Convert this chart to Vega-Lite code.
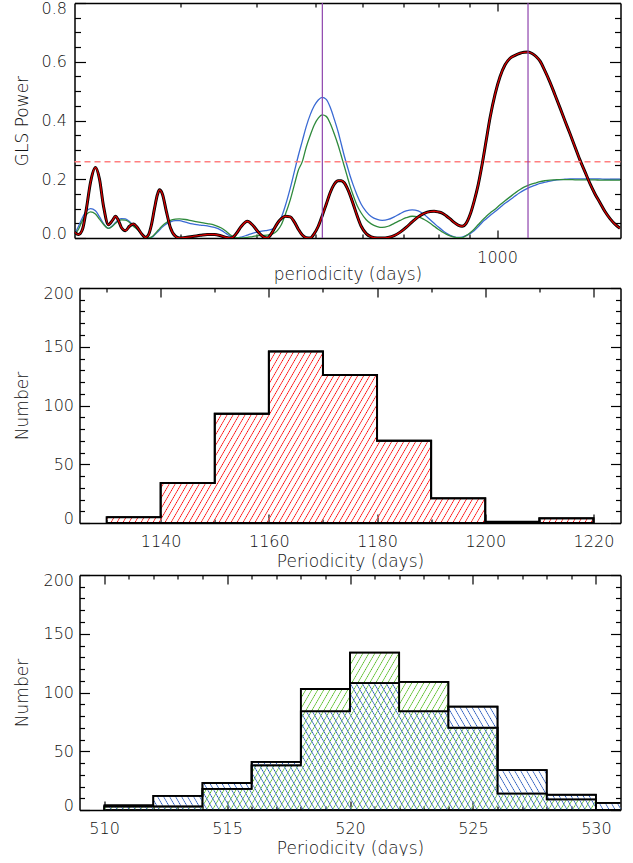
{
"$schema":"https://vega.github.io/schema/vega-lite/v6.json",
"padding":{"left":13.5,"top":0,"right":8,"bottom":0},
"columns":1,"align":"none","spacing":3,
"config":{"view":{"stroke":null},"axis":{"grid":false,"domainColor":"#000","domainWidth":1.5,"tickColor":"#000","tickWidth":1.2,"labelFont":"DejaVu Sans","labelFontSize":16,"labelColor":"#111","labelFontWeight":200,"titleFont":"DejaVu Sans","titleFontSize":17,"titleFontWeight":200,"titleColor":"#111"}},
"datasets":{
"gls":[{"p":200,"r":0.02,"b":0.012,"g":0.01},{"p":203.1,"r":0.012,"b":0.04,"g":0.03},{"p":206.2,"r":0.03,"b":0.07,"g":0.06},{"p":209.3,"r":0.1,"b":0.092,"g":0.08},{"p":212.6,"r":0.19,"b":0.1,"g":0.089},{"p":216.6,"r":0.24,"b":0.093,"g":0.082},{"p":220,"r":0.2,"b":0.072,"g":0.064},{"p":223.3,"r":0.11,"b":0.05,"g":0.047},{"p":227.6,"r":0.045,"b":0.033,"g":0.033},{"p":231.1,"r":0.06,"b":0.042,"g":0.04},{"p":233.8,"r":0.074,"b":0.053,"g":0.05},{"p":236.4,"r":0.06,"b":0.062,"g":0.058},{"p":239.2,"r":0.035,"b":0.066,"g":0.062},{"p":242.8,"r":0.025,"b":0.065,"g":0.061},{"p":246.6,"r":0.04,"b":0.056,"g":0.053},{"p":250.3,"r":0.048,"b":0.043,"g":0.04},{"p":254.2,"r":0.035,"b":0.03,"g":0.029},{"p":258.1,"r":0.015,"b":0.016,"g":0.015},{"p":262,"r":0.002,"b":0.005,"g":0.005},{"p":265,"r":0.01,"b":0,"g":0},{"p":268.1,"r":0.045,"b":0.002,"g":0.003},{"p":271.2,"r":0.1,"b":0.01,"g":0.012},{"p":274.3,"r":0.148,"b":0.02,"g":0.024},{"p":276.4,"r":0.164,"b":0.027,"g":0.031},{"p":279.5,"r":0.15,"b":0.037,"g":0.042},{"p":283.8,"r":0.09,"b":0.048,"g":0.053},{"p":288.2,"r":0.035,"b":0.055,"g":0.06},{"p":293.7,"r":0.006,"b":0.059,"g":0.064},{"p":298.2,"r":0,"b":0.059,"g":0.065},{"p":305.1,"r":0.002,"b":0.054,"g":0.063},{"p":313.3,"r":0.005,"b":0.048,"g":0.058},{"p":323,"r":0.009,"b":0.044,"g":0.053},{"p":331.7,"r":0.012,"b":0.041,"g":0.049},{"p":340.7,"r":0.012,"b":0.036,"g":0.044},{"p":349.9,"r":0.007,"b":0.026,"g":0.034},{"p":356.6,"r":0.002,"b":0.015,"g":0.022},{"p":363.5,"r":0,"b":0.004,"g":0.008},{"p":370.4,"r":0.015,"b":0,"g":0.001},{"p":377.6,"r":0.04,"b":0.003,"g":0},{"p":386.3,"r":0.057,"b":0.01,"g":0.002},{"p":393.7,"r":0.045,"b":0.016,"g":0.005},{"p":402.8,"r":0.02,"b":0.021,"g":0.008},{"p":410.5,"r":0.004,"b":0.024,"g":0.009},{"p":416.8,"r":0,"b":0.026,"g":0.01},{"p":424.8,"r":0.02,"b":0.03,"g":0.013},{"p":433,"r":0.05,"b":0.045,"g":0.025},{"p":439.6,"r":0.066,"b":0.07,"g":0.045},{"p":446.4,"r":0.074,"b":0.11,"g":0.08},{"p":454.9,"r":0.072,"b":0.17,"g":0.13},{"p":461.9,"r":0.055,"b":0.225,"g":0.18},{"p":469,"r":0.03,"b":0.28,"g":0.23},{"p":476.2,"r":0.01,"b":0.33,"g":0.26},{"p":483.5,"r":0.001,"b":0.38,"g":0.31},{"p":490.9,"r":0,"b":0.42,"g":0.35},{"p":498.4,"r":0.015,"b":0.45,"g":0.385},{"p":506.1,"r":0.04,"b":0.47,"g":0.408},{"p":513.8,"r":0.076,"b":0.479,"g":0.419},{"p":521.7,"r":0.115,"b":0.472,"g":0.414},{"p":529.7,"r":0.155,"b":0.445,"g":0.39},{"p":537.8,"r":0.183,"b":0.405,"g":0.355},{"p":546.1,"r":0.195,"b":0.36,"g":0.315},{"p":552.4,"r":0.195,"b":0.32,"g":0.28},{"p":558.7,"r":0.188,"b":0.28,"g":0.245},{"p":565.1,"r":0.17,"b":0.245,"g":0.21},{"p":571.6,"r":0.145,"b":0.21,"g":0.175},{"p":578.2,"r":0.115,"b":0.18,"g":0.145},{"p":587,"r":0.075,"b":0.145,"g":0.11},{"p":596,"r":0.04,"b":0.115,"g":0.085},{"p":607.5,"r":0.015,"b":0.09,"g":0.062},{"p":619.1,"r":0.004,"b":0.073,"g":0.048},{"p":633.4,"r":0,"b":0.063,"g":0.039},{"p":645.6,"r":0,"b":0.06,"g":0.036},{"p":660.5,"r":0.002,"b":0.063,"g":0.04},{"p":675.8,"r":0.008,"b":0.072,"g":0.05},{"p":691.4,"r":0.02,"b":0.083,"g":0.06},{"p":707.3,"r":0.036,"b":0.092,"g":0.069},{"p":723.7,"r":0.055,"b":0.096,"g":0.074},{"p":740.4,"r":0.072,"b":0.092,"g":0.072},{"p":757.5,"r":0.084,"b":0.08,"g":0.063},{"p":775,"r":0.09,"b":0.062,"g":0.05},{"p":786.8,"r":0.091,"b":0.05,"g":0.04},{"p":798.9,"r":0.089,"b":0.038,"g":0.03},{"p":811.2,"r":0.085,"b":0.027,"g":0.021},{"p":823.6,"r":0.076,"b":0.017,"g":0.013},{"p":836.2,"r":0.065,"b":0.009,"g":0.007},{"p":849.1,"r":0.053,"b":0.004,"g":0.003},{"p":862.1,"r":0.044,"b":0.002,"g":0.001},{"p":875.3,"r":0.04,"b":0.003,"g":0.001},{"p":888.7,"r":0.05,"b":0.008,"g":0.008},{"p":902.4,"r":0.08,"b":0.015,"g":0.018},{"p":916.2,"r":0.125,"b":0.025,"g":0.03},{"p":930.3,"r":0.18,"b":0.038,"g":0.045},{"p":944.5,"r":0.25,"b":0.053,"g":0.06},{"p":959,"r":0.33,"b":0.065,"g":0.073},{"p":973.7,"r":0.41,"b":0.077,"g":0.085},{"p":992.4,"r":0.49,"b":0.09,"g":0.098},{"p":1011.5,"r":0.55,"b":0.104,"g":0.113},{"p":1030.9,"r":0.59,"b":0.118,"g":0.127},{"p":1050.7,"r":0.612,"b":0.13,"g":0.14},{"p":1070.9,"r":0.622,"b":0.143,"g":0.153},{"p":1091.5,"r":0.629,"b":0.155,"g":0.165},{"p":1108.2,"r":0.632,"b":0.163,"g":0.173},{"p":1125.2,"r":0.633,"b":0.17,"g":0.179},{"p":1142.5,"r":0.628,"b":0.176,"g":0.184},{"p":1160,"r":0.618,"b":0.181,"g":0.188},{"p":1177.8,"r":0.602,"b":0.186,"g":0.192},{"p":1200.4,"r":0.568,"b":0.19,"g":0.195},{"p":1223.4,"r":0.53,"b":0.194,"g":0.197},{"p":1246.9,"r":0.487,"b":0.197,"g":0.198},{"p":1270.9,"r":0.443,"b":0.199,"g":0.199},{"p":1295.3,"r":0.398,"b":0.2,"g":0.199},{"p":1320.2,"r":0.355,"b":0.201,"g":0.199},{"p":1345.5,"r":0.31,"b":0.201,"g":0.198},{"p":1371.4,"r":0.265,"b":0.201,"g":0.198},{"p":1397.7,"r":0.225,"b":0.201,"g":0.198},{"p":1424.6,"r":0.185,"b":0.201,"g":0.198},{"p":1451.9,"r":0.15,"b":0.201,"g":0.198},{"p":1479.8,"r":0.12,"b":0.201,"g":0.197},{"p":1508.2,"r":0.09,"b":0.2,"g":0.197},{"p":1537.2,"r":0.066,"b":0.2,"g":0.197},{"p":1566.7,"r":0.047,"b":0.2,"g":0.197},{"p":1596.8,"r":0.033,"b":0.2,"g":0.197}],
"h1":[{"x":1130,"n":5},{"x":1140,"n":34},{"x":1150,"n":93},{"x":1160,"n":146},{"x":1170,"n":126},{"x":1180,"n":70},{"x":1190,"n":21},{"x":1200,"n":1},{"x":1210,"n":4},{"x":1220,"n":0}],
"h2":[{"x":510,"b":4,"g":3},{"x":512,"b":12,"g":3},{"x":514,"b":23,"g":18},{"x":516,"b":41,"g":38},{"x":518,"b":84,"g":103},{"x":520,"b":108,"g":134},{"x":522,"b":84,"g":109},{"x":524,"b":88,"g":70},{"x":526,"b":34,"g":14},{"x":528,"b":13,"g":9},{"x":530,"b":6,"g":0},{"x":532,"b":0,"g":0}]
},
"concat":[
{"width":546,"height":235,"data":{"name":"gls"},
"resolve":{"axis":{"x":"independent","y":"independent"}},
"layer":[
{"mark":{"type":"line","color":"#3a6ad4","strokeWidth":1.3,"interpolate":"monotone","clip":true},
"encoding":{"x":{"field":"p","type":"quantitative","scale":{"type":"log","domain":[200,1600],"nice":false},"axis":{"orient":"bottom","values":[300,400,500,600,700,800,900,1000],"labelExpr":"datum.value==1000?'1000':''","tickSize":-8,"tickDash":{"condition":{"test":"datum.value==1000","value":[20,0]},"value":[4,20]},"title":"periodicity (days)","labelPadding":19,"titlePadding":1,"labelFlush":false}},
"y":{"field":"b","type":"quantitative","scale":{"domain":[0,0.8],"nice":false},"axis":{"orient":"left","values":[0,0.05,0.1,0.15,0.2,0.25,0.3,0.35,0.4,0.45,0.5,0.55,0.6,0.65,0.7,0.75,0.8],"labelExpr":"round(datum.value*100)%20==0?format(datum.value,'.1f'):''","tickSize":-11,"tickDash":{"condition":{"test":"round(datum.value*100)%20==0","value":[20,0]},"value":[6,20]},"title":"GLS Power","titleX":-52,"titleBaseline":"middle","labelPadding":19,"labelFlush":true,"labelFlushOffset":3}}}},
{"mark":{"type":"line","color":"#2f8a3c","strokeWidth":1.3,"interpolate":"monotone","clip":true},
"encoding":{"x":{"field":"p","type":"quantitative","axis":{"orient":"top","values":[300,400,500,600,700,800,900,1000],"labels":false,"title":null,"tickSize":-8,"tickDash":{"condition":{"test":"datum.value==1000","value":[20,0]},"value":[4,20]}}},
"y":{"field":"g","type":"quantitative","axis":{"orient":"right","values":[0,0.05,0.1,0.15,0.2,0.25,0.3,0.35,0.4,0.45,0.5,0.55,0.6,0.65,0.7,0.75,0.8],"labels":false,"title":null,"tickSize":-11,"tickDash":{"condition":{"test":"round(datum.value*100)%20==0","value":[20,0]},"value":[6,20]}}}}},
{"mark":{"type":"line","color":"#000","strokeWidth":3,"interpolate":"monotone","clip":true},
"encoding":{"x":{"field":"p","type":"quantitative","axis":null},"y":{"field":"r","type":"quantitative","axis":null}}},
{"mark":{"type":"line","color":"#d40000","strokeWidth":1.3,"interpolate":"monotone","clip":true},
"encoding":{"x":{"field":"p","type":"quantitative","axis":null},"y":{"field":"r","type":"quantitative","axis":null}}},
{"data":{"values":[{"v":0.26}]},"mark":{"type":"rule","color":"#ff7f7f","strokeWidth":1.5,"strokeDash":[6,4]},
"encoding":{"y":{"field":"v","type":"quantitative","axis":null}}},
{"data":{"values":[{"p":514},{"p":1125}]},"mark":{"type":"rule","color":"#8e44ad","strokeWidth":1.2},
"encoding":{"x":{"field":"p","type":"quantitative","axis":null}}}
]},
{"width":546,"height":235,"data":{"name":"h1"},
"resolve":{"axis":{"x":"independent","y":"independent"}},
"layer":[
{"mark":{"type":"area","interpolate":"step-after","clip":true,"stroke":"#000","strokeWidth":1.8,"fill":{"gradient":"linear","x1":0,"y1":0,"x2":1.1833,"y2":0.24072,"stops":[{"offset":0,"color":"#fff0"},{"offset":0.002,"color":"#f00"},{"offset":0.004,"color":"#fff0"},{"offset":0.01,"color":"#fff0"},{"offset":0.012,"color":"#f00"},{"offset":0.014,"color":"#fff0"},{"offset":0.02,"color":"#fff0"},{"offset":0.022,"color":"#f00"},{"offset":0.024,"color":"#fff0"},{"offset":0.03,"color":"#fff0"},{"offset":0.032,"color":"#f00"},{"offset":0.034,"color":"#fff0"},{"offset":0.04,"color":"#fff0"},{"offset":0.042,"color":"#f00"},{"offset":0.044,"color":"#fff0"},{"offset":0.05,"color":"#fff0"},{"offset":0.052,"color":"#f00"},{"offset":0.054,"color":"#fff0"},{"offset":0.06,"color":"#fff0"},{"offset":0.062,"color":"#f00"},{"offset":0.064,"color":"#fff0"},{"offset":0.07,"color":"#fff0"},{"offset":0.072,"color":"#f00"},{"offset":0.074,"color":"#fff0"},{"offset":0.08,"color":"#fff0"},{"offset":0.082,"color":"#f00"},{"offset":0.084,"color":"#fff0"},{"offset":0.09,"color":"#fff0"},{"offset":0.092,"color":"#f00"},{"offset":0.094,"color":"#fff0"},{"offset":0.1,"color":"#fff0"},{"offset":0.102,"color":"#f00"},{"offset":0.104,"color":"#fff0"},{"offset":0.11,"color":"#fff0"},{"offset":0.112,"color":"#f00"},{"offset":0.114,"color":"#fff0"},{"offset":0.12,"color":"#fff0"},{"offset":0.122,"color":"#f00"},{"offset":0.124,"color":"#fff0"},{"offset":0.13,"color":"#fff0"},{"offset":0.132,"color":"#f00"},{"offset":0.134,"color":"#fff0"},{"offset":0.14,"color":"#fff0"},{"offset":0.142,"color":"#f00"},{"offset":0.144,"color":"#fff0"},{"offset":0.15,"color":"#fff0"},{"offset":0.152,"color":"#f00"},{"offset":0.154,"color":"#fff0"},{"offset":0.16,"color":"#fff0"},{"offset":0.162,"color":"#f00"},{"offset":0.164,"color":"#fff0"},{"offset":0.17,"color":"#fff0"},{"offset":0.172,"color":"#f00"},{"offset":0.174,"color":"#fff0"},{"offset":0.18,"color":"#fff0"},{"offset":0.182,"color":"#f00"},{"offset":0.184,"color":"#fff0"},{"offset":0.19,"color":"#fff0"},{"offset":0.192,"color":"#f00"},{"offset":0.194,"color":"#fff0"},{"offset":0.2,"color":"#fff0"},{"offset":0.202,"color":"#f00"},{"offset":0.204,"color":"#fff0"},{"offset":0.21,"color":"#fff0"},{"offset":0.212,"color":"#f00"},{"offset":0.214,"color":"#fff0"},{"offset":0.22,"color":"#fff0"},{"offset":0.222,"color":"#f00"},{"offset":0.224,"color":"#fff0"},{"offset":0.23,"color":"#fff0"},{"offset":0.232,"color":"#f00"},{"offset":0.234,"color":"#fff0"},{"offset":0.24,"color":"#fff0"},{"offset":0.242,"color":"#f00"},{"offset":0.244,"color":"#fff0"},{"offset":0.25,"color":"#fff0"},{"offset":0.252,"color":"#f00"},{"offset":0.254,"color":"#fff0"},{"offset":0.26,"color":"#fff0"},{"offset":0.262,"color":"#f00"},{"offset":0.264,"color":"#fff0"},{"offset":0.27,"color":"#fff0"},{"offset":0.272,"color":"#f00"},{"offset":0.274,"color":"#fff0"},{"offset":0.28,"color":"#fff0"},{"offset":0.282,"color":"#f00"},{"offset":0.284,"color":"#fff0"},{"offset":0.29,"color":"#fff0"},{"offset":0.292,"color":"#f00"},{"offset":0.294,"color":"#fff0"},{"offset":0.3,"color":"#fff0"},{"offset":0.302,"color":"#f00"},{"offset":0.304,"color":"#fff0"},{"offset":0.31,"color":"#fff0"},{"offset":0.312,"color":"#f00"},{"offset":0.314,"color":"#fff0"},{"offset":0.32,"color":"#fff0"},{"offset":0.322,"color":"#f00"},{"offset":0.324,"color":"#fff0"},{"offset":0.33,"color":"#fff0"},{"offset":0.332,"color":"#f00"},{"offset":0.334,"color":"#fff0"},{"offset":0.34,"color":"#fff0"},{"offset":0.342,"color":"#f00"},{"offset":0.344,"color":"#fff0"},{"offset":0.35,"color":"#fff0"},{"offset":0.352,"color":"#f00"},{"offset":0.354,"color":"#fff0"},{"offset":0.36,"color":"#fff0"},{"offset":0.362,"color":"#f00"},{"offset":0.364,"color":"#fff0"},{"offset":0.37,"color":"#fff0"},{"offset":0.372,"color":"#f00"},{"offset":0.374,"color":"#fff0"},{"offset":0.38,"color":"#fff0"},{"offset":0.382,"color":"#f00"},{"offset":0.384,"color":"#fff0"},{"offset":0.39,"color":"#fff0"},{"offset":0.392,"color":"#f00"},{"offset":0.394,"color":"#fff0"},{"offset":0.4,"color":"#fff0"},{"offset":0.402,"color":"#f00"},{"offset":0.404,"color":"#fff0"},{"offset":0.41,"color":"#fff0"},{"offset":0.412,"color":"#f00"},{"offset":0.414,"color":"#fff0"},{"offset":0.42,"color":"#fff0"},{"offset":0.422,"color":"#f00"},{"offset":0.424,"color":"#fff0"},{"offset":0.43,"color":"#fff0"},{"offset":0.432,"color":"#f00"},{"offset":0.434,"color":"#fff0"},{"offset":0.44,"color":"#fff0"},{"offset":0.442,"color":"#f00"},{"offset":0.444,"color":"#fff0"},{"offset":0.45,"color":"#fff0"},{"offset":0.452,"color":"#f00"},{"offset":0.454,"color":"#fff0"},{"offset":0.46,"color":"#fff0"},{"offset":0.462,"color":"#f00"},{"offset":0.464,"color":"#fff0"},{"offset":0.47,"color":"#fff0"},{"offset":0.472,"color":"#f00"},{"offset":0.474,"color":"#fff0"},{"offset":0.48,"color":"#fff0"},{"offset":0.482,"color":"#f00"},{"offset":0.484,"color":"#fff0"},{"offset":0.49,"color":"#fff0"},{"offset":0.492,"color":"#f00"},{"offset":0.494,"color":"#fff0"},{"offset":0.5,"color":"#fff0"},{"offset":0.502,"color":"#f00"},{"offset":0.504,"color":"#fff0"},{"offset":0.51,"color":"#fff0"},{"offset":0.512,"color":"#f00"},{"offset":0.514,"color":"#fff0"},{"offset":0.52,"color":"#fff0"},{"offset":0.522,"color":"#f00"},{"offset":0.524,"color":"#fff0"},{"offset":0.53,"color":"#fff0"},{"offset":0.532,"color":"#f00"},{"offset":0.534,"color":"#fff0"},{"offset":0.54,"color":"#fff0"},{"offset":0.542,"color":"#f00"},{"offset":0.544,"color":"#fff0"},{"offset":0.55,"color":"#fff0"},{"offset":0.552,"color":"#f00"},{"offset":0.554,"color":"#fff0"},{"offset":0.56,"color":"#fff0"},{"offset":0.562,"color":"#f00"},{"offset":0.564,"color":"#fff0"},{"offset":0.57,"color":"#fff0"},{"offset":0.572,"color":"#f00"},{"offset":0.574,"color":"#fff0"},{"offset":0.58,"color":"#fff0"},{"offset":0.582,"color":"#f00"},{"offset":0.584,"color":"#fff0"},{"offset":0.59,"color":"#fff0"},{"offset":0.592,"color":"#f00"},{"offset":0.594,"color":"#fff0"},{"offset":0.6,"color":"#fff0"},{"offset":0.602,"color":"#f00"},{"offset":0.604,"color":"#fff0"},{"offset":0.61,"color":"#fff0"},{"offset":0.612,"color":"#f00"},{"offset":0.614,"color":"#fff0"},{"offset":0.62,"color":"#fff0"},{"offset":0.622,"color":"#f00"},{"offset":0.624,"color":"#fff0"},{"offset":0.63,"color":"#fff0"},{"offset":0.632,"color":"#f00"},{"offset":0.634,"color":"#fff0"},{"offset":0.64,"color":"#fff0"},{"offset":0.642,"color":"#f00"},{"offset":0.644,"color":"#fff0"},{"offset":0.65,"color":"#fff0"},{"offset":0.652,"color":"#f00"},{"offset":0.654,"color":"#fff0"},{"offset":0.66,"color":"#fff0"},{"offset":0.662,"color":"#f00"},{"offset":0.664,"color":"#fff0"},{"offset":0.67,"color":"#fff0"},{"offset":0.672,"color":"#f00"},{"offset":0.674,"color":"#fff0"},{"offset":0.68,"color":"#fff0"},{"offset":0.682,"color":"#f00"},{"offset":0.684,"color":"#fff0"},{"offset":0.69,"color":"#fff0"},{"offset":0.692,"color":"#f00"},{"offset":0.694,"color":"#fff0"},{"offset":0.7,"color":"#fff0"},{"offset":0.702,"color":"#f00"},{"offset":0.704,"color":"#fff0"},{"offset":0.71,"color":"#fff0"},{"offset":0.712,"color":"#f00"},{"offset":0.714,"color":"#fff0"},{"offset":0.72,"color":"#fff0"},{"offset":0.722,"color":"#f00"},{"offset":0.724,"color":"#fff0"},{"offset":0.73,"color":"#fff0"},{"offset":0.732,"color":"#f00"},{"offset":0.734,"color":"#fff0"},{"offset":0.74,"color":"#fff0"},{"offset":0.742,"color":"#f00"},{"offset":0.744,"color":"#fff0"},{"offset":0.75,"color":"#fff0"},{"offset":0.752,"color":"#f00"},{"offset":0.754,"color":"#fff0"},{"offset":0.76,"color":"#fff0"},{"offset":0.762,"color":"#f00"},{"offset":0.764,"color":"#fff0"},{"offset":0.77,"color":"#fff0"},{"offset":0.772,"color":"#f00"},{"offset":0.774,"color":"#fff0"},{"offset":0.78,"color":"#fff0"},{"offset":0.782,"color":"#f00"},{"offset":0.784,"color":"#fff0"},{"offset":0.79,"color":"#fff0"},{"offset":0.792,"color":"#f00"},{"offset":0.794,"color":"#fff0"},{"offset":0.8,"color":"#fff0"},{"offset":0.802,"color":"#f00"},{"offset":0.804,"color":"#fff0"},{"offset":0.81,"color":"#fff0"},{"offset":0.812,"color":"#f00"},{"offset":0.814,"color":"#fff0"},{"offset":0.82,"color":"#fff0"},{"offset":0.822,"color":"#f00"},{"offset":0.824,"color":"#fff0"},{"offset":0.83,"color":"#fff0"},{"offset":0.832,"color":"#f00"},{"offset":0.834,"color":"#fff0"},{"offset":0.84,"color":"#fff0"},{"offset":0.842,"color":"#f00"},{"offset":0.844,"color":"#fff0"},{"offset":0.85,"color":"#fff0"},{"offset":0.852,"color":"#f00"},{"offset":0.854,"color":"#fff0"},{"offset":0.86,"color":"#fff0"},{"offset":0.862,"color":"#f00"},{"offset":0.864,"color":"#fff0"},{"offset":0.87,"color":"#fff0"},{"offset":0.872,"color":"#f00"},{"offset":0.874,"color":"#fff0"},{"offset":0.88,"color":"#fff0"},{"offset":0.882,"color":"#f00"},{"offset":0.884,"color":"#fff0"},{"offset":0.89,"color":"#fff0"},{"offset":0.892,"color":"#f00"},{"offset":0.894,"color":"#fff0"},{"offset":0.9,"color":"#fff0"},{"offset":0.902,"color":"#f00"},{"offset":0.904,"color":"#fff0"},{"offset":0.91,"color":"#fff0"},{"offset":0.912,"color":"#f00"},{"offset":0.914,"color":"#fff0"},{"offset":0.92,"color":"#fff0"},{"offset":0.922,"color":"#f00"},{"offset":0.924,"color":"#fff0"},{"offset":0.93,"color":"#fff0"},{"offset":0.932,"color":"#f00"},{"offset":0.934,"color":"#fff0"},{"offset":0.94,"color":"#fff0"},{"offset":0.942,"color":"#f00"},{"offset":0.944,"color":"#fff0"},{"offset":0.95,"color":"#fff0"},{"offset":0.952,"color":"#f00"},{"offset":0.954,"color":"#fff0"},{"offset":0.96,"color":"#fff0"},{"offset":0.962,"color":"#f00"},{"offset":0.964,"color":"#fff0"},{"offset":0.97,"color":"#fff0"},{"offset":0.972,"color":"#f00"},{"offset":0.974,"color":"#fff0"},{"offset":0.98,"color":"#fff0"},{"offset":0.982,"color":"#f00"},{"offset":0.984,"color":"#fff0"},{"offset":0.99,"color":"#fff0"},{"offset":0.992,"color":"#f00"},{"offset":0.994,"color":"#fff0"}]}},
"encoding":{"x":{"field":"x","type":"quantitative","scale":{"domain":[1125,1225],"range":[5,546],"nice":false,"zero":false},"axis":{"orient":"bottom","values":[1130,1140,1150,1160,1170,1180,1190,1200,1210,1220],"format":"d","labelExpr":"datum.value%20==0?datum.label:''","tickSize":-9,"tickDash":{"condition":{"test":"datum.value%20==0","value":[20,0]},"value":[4,20]},"title":"Periodicity (days)","labelPadding":19,"titlePadding":4,"labelFlush":false}},
"y":{"field":"n","type":"quantitative","scale":{"domain":[0,200],"nice":false},"axis":{"orient":"left","offset":-5,"values":[0,10,20,30,40,50,60,70,80,90,100,110,120,130,140,150,160,170,180,190,200],"labelExpr":"datum.value%50==0?datum.label:''","tickSize":-10,"tickDash":{"condition":{"test":"datum.value%50==0","value":[20,0]},"value":[5,20]},"title":"Number","titleX":-57,"titleBaseline":"middle","labelPadding":16,"labelFlush":true,"labelFlushOffset":3}}}},
{"mark":{"type":"line","interpolate":"step-after","color":"#000","strokeWidth":2,"clip":true},
"encoding":{"x":{"field":"x","type":"quantitative","axis":{"orient":"top","values":[1130,1140,1150,1160,1170,1180,1190,1200,1210,1220],"labels":false,"title":null,"tickSize":-9,"tickDash":{"condition":{"test":"datum.value%20==0","value":[20,0]},"value":[4,20]}}},
"y":{"field":"n","type":"quantitative","axis":{"orient":"right","values":[0,10,20,30,40,50,60,70,80,90,100,110,120,130,140,150,160,170,180,190,200],"labels":false,"title":null,"tickSize":-10,"tickDash":{"condition":{"test":"datum.value%50==0","value":[20,0]},"value":[5,20]}}}}}
]},
{"width":546,"height":235,"data":{"name":"h2"},
"resolve":{"axis":{"x":"independent","y":"independent"}},
"layer":[
{"mark":{"type":"area","interpolate":"step-after","clip":true,"stroke":"#000","strokeWidth":1.6,"fill":{"gradient":"linear","x1":0,"y1":0,"x2":1.0786,"y2":0.18124,"stops":[{"offset":0,"color":"#fff0"},{"offset":0.002,"color":"#5b2"},{"offset":0.004,"color":"#fff0"},{"offset":0.01,"color":"#fff0"},{"offset":0.012,"color":"#5b2"},{"offset":0.014,"color":"#fff0"},{"offset":0.02,"color":"#fff0"},{"offset":0.022,"color":"#5b2"},{"offset":0.024,"color":"#fff0"},{"offset":0.03,"color":"#fff0"},{"offset":0.032,"color":"#5b2"},{"offset":0.034,"color":"#fff0"},{"offset":0.04,"color":"#fff0"},{"offset":0.042,"color":"#5b2"},{"offset":0.044,"color":"#fff0"},{"offset":0.05,"color":"#fff0"},{"offset":0.052,"color":"#5b2"},{"offset":0.054,"color":"#fff0"},{"offset":0.06,"color":"#fff0"},{"offset":0.062,"color":"#5b2"},{"offset":0.064,"color":"#fff0"},{"offset":0.07,"color":"#fff0"},{"offset":0.072,"color":"#5b2"},{"offset":0.074,"color":"#fff0"},{"offset":0.08,"color":"#fff0"},{"offset":0.082,"color":"#5b2"},{"offset":0.084,"color":"#fff0"},{"offset":0.09,"color":"#fff0"},{"offset":0.092,"color":"#5b2"},{"offset":0.094,"color":"#fff0"},{"offset":0.1,"color":"#fff0"},{"offset":0.102,"color":"#5b2"},{"offset":0.104,"color":"#fff0"},{"offset":0.11,"color":"#fff0"},{"offset":0.112,"color":"#5b2"},{"offset":0.114,"color":"#fff0"},{"offset":0.12,"color":"#fff0"},{"offset":0.122,"color":"#5b2"},{"offset":0.124,"color":"#fff0"},{"offset":0.13,"color":"#fff0"},{"offset":0.132,"color":"#5b2"},{"offset":0.134,"color":"#fff0"},{"offset":0.14,"color":"#fff0"},{"offset":0.142,"color":"#5b2"},{"offset":0.144,"color":"#fff0"},{"offset":0.15,"color":"#fff0"},{"offset":0.152,"color":"#5b2"},{"offset":0.154,"color":"#fff0"},{"offset":0.16,"color":"#fff0"},{"offset":0.162,"color":"#5b2"},{"offset":0.164,"color":"#fff0"},{"offset":0.17,"color":"#fff0"},{"offset":0.172,"color":"#5b2"},{"offset":0.174,"color":"#fff0"},{"offset":0.18,"color":"#fff0"},{"offset":0.182,"color":"#5b2"},{"offset":0.184,"color":"#fff0"},{"offset":0.19,"color":"#fff0"},{"offset":0.192,"color":"#5b2"},{"offset":0.194,"color":"#fff0"},{"offset":0.2,"color":"#fff0"},{"offset":0.202,"color":"#5b2"},{"offset":0.204,"color":"#fff0"},{"offset":0.21,"color":"#fff0"},{"offset":0.212,"color":"#5b2"},{"offset":0.214,"color":"#fff0"},{"offset":0.22,"color":"#fff0"},{"offset":0.222,"color":"#5b2"},{"offset":0.224,"color":"#fff0"},{"offset":0.23,"color":"#fff0"},{"offset":0.232,"color":"#5b2"},{"offset":0.234,"color":"#fff0"},{"offset":0.24,"color":"#fff0"},{"offset":0.242,"color":"#5b2"},{"offset":0.244,"color":"#fff0"},{"offset":0.25,"color":"#fff0"},{"offset":0.252,"color":"#5b2"},{"offset":0.254,"color":"#fff0"},{"offset":0.26,"color":"#fff0"},{"offset":0.262,"color":"#5b2"},{"offset":0.264,"color":"#fff0"},{"offset":0.27,"color":"#fff0"},{"offset":0.272,"color":"#5b2"},{"offset":0.274,"color":"#fff0"},{"offset":0.28,"color":"#fff0"},{"offset":0.282,"color":"#5b2"},{"offset":0.284,"color":"#fff0"},{"offset":0.29,"color":"#fff0"},{"offset":0.292,"color":"#5b2"},{"offset":0.294,"color":"#fff0"},{"offset":0.3,"color":"#fff0"},{"offset":0.302,"color":"#5b2"},{"offset":0.304,"color":"#fff0"},{"offset":0.31,"color":"#fff0"},{"offset":0.312,"color":"#5b2"},{"offset":0.314,"color":"#fff0"},{"offset":0.32,"color":"#fff0"},{"offset":0.322,"color":"#5b2"},{"offset":0.324,"color":"#fff0"},{"offset":0.33,"color":"#fff0"},{"offset":0.332,"color":"#5b2"},{"offset":0.334,"color":"#fff0"},{"offset":0.34,"color":"#fff0"},{"offset":0.342,"color":"#5b2"},{"offset":0.344,"color":"#fff0"},{"offset":0.35,"color":"#fff0"},{"offset":0.352,"color":"#5b2"},{"offset":0.354,"color":"#fff0"},{"offset":0.36,"color":"#fff0"},{"offset":0.362,"color":"#5b2"},{"offset":0.364,"color":"#fff0"},{"offset":0.37,"color":"#fff0"},{"offset":0.372,"color":"#5b2"},{"offset":0.374,"color":"#fff0"},{"offset":0.38,"color":"#fff0"},{"offset":0.382,"color":"#5b2"},{"offset":0.384,"color":"#fff0"},{"offset":0.39,"color":"#fff0"},{"offset":0.392,"color":"#5b2"},{"offset":0.394,"color":"#fff0"},{"offset":0.4,"color":"#fff0"},{"offset":0.402,"color":"#5b2"},{"offset":0.404,"color":"#fff0"},{"offset":0.41,"color":"#fff0"},{"offset":0.412,"color":"#5b2"},{"offset":0.414,"color":"#fff0"},{"offset":0.42,"color":"#fff0"},{"offset":0.422,"color":"#5b2"},{"offset":0.424,"color":"#fff0"},{"offset":0.43,"color":"#fff0"},{"offset":0.432,"color":"#5b2"},{"offset":0.434,"color":"#fff0"},{"offset":0.44,"color":"#fff0"},{"offset":0.442,"color":"#5b2"},{"offset":0.444,"color":"#fff0"},{"offset":0.45,"color":"#fff0"},{"offset":0.452,"color":"#5b2"},{"offset":0.454,"color":"#fff0"},{"offset":0.46,"color":"#fff0"},{"offset":0.462,"color":"#5b2"},{"offset":0.464,"color":"#fff0"},{"offset":0.47,"color":"#fff0"},{"offset":0.472,"color":"#5b2"},{"offset":0.474,"color":"#fff0"},{"offset":0.48,"color":"#fff0"},{"offset":0.482,"color":"#5b2"},{"offset":0.484,"color":"#fff0"},{"offset":0.49,"color":"#fff0"},{"offset":0.492,"color":"#5b2"},{"offset":0.494,"color":"#fff0"},{"offset":0.5,"color":"#fff0"},{"offset":0.502,"color":"#5b2"},{"offset":0.504,"color":"#fff0"},{"offset":0.51,"color":"#fff0"},{"offset":0.512,"color":"#5b2"},{"offset":0.514,"color":"#fff0"},{"offset":0.52,"color":"#fff0"},{"offset":0.522,"color":"#5b2"},{"offset":0.524,"color":"#fff0"},{"offset":0.53,"color":"#fff0"},{"offset":0.532,"color":"#5b2"},{"offset":0.534,"color":"#fff0"},{"offset":0.54,"color":"#fff0"},{"offset":0.542,"color":"#5b2"},{"offset":0.544,"color":"#fff0"},{"offset":0.55,"color":"#fff0"},{"offset":0.552,"color":"#5b2"},{"offset":0.554,"color":"#fff0"},{"offset":0.56,"color":"#fff0"},{"offset":0.562,"color":"#5b2"},{"offset":0.564,"color":"#fff0"},{"offset":0.57,"color":"#fff0"},{"offset":0.572,"color":"#5b2"},{"offset":0.574,"color":"#fff0"},{"offset":0.58,"color":"#fff0"},{"offset":0.582,"color":"#5b2"},{"offset":0.584,"color":"#fff0"},{"offset":0.59,"color":"#fff0"},{"offset":0.592,"color":"#5b2"},{"offset":0.594,"color":"#fff0"},{"offset":0.6,"color":"#fff0"},{"offset":0.602,"color":"#5b2"},{"offset":0.604,"color":"#fff0"},{"offset":0.61,"color":"#fff0"},{"offset":0.612,"color":"#5b2"},{"offset":0.614,"color":"#fff0"},{"offset":0.62,"color":"#fff0"},{"offset":0.622,"color":"#5b2"},{"offset":0.624,"color":"#fff0"},{"offset":0.63,"color":"#fff0"},{"offset":0.632,"color":"#5b2"},{"offset":0.634,"color":"#fff0"},{"offset":0.64,"color":"#fff0"},{"offset":0.642,"color":"#5b2"},{"offset":0.644,"color":"#fff0"},{"offset":0.65,"color":"#fff0"},{"offset":0.652,"color":"#5b2"},{"offset":0.654,"color":"#fff0"},{"offset":0.66,"color":"#fff0"},{"offset":0.662,"color":"#5b2"},{"offset":0.664,"color":"#fff0"},{"offset":0.67,"color":"#fff0"},{"offset":0.672,"color":"#5b2"},{"offset":0.674,"color":"#fff0"},{"offset":0.68,"color":"#fff0"},{"offset":0.682,"color":"#5b2"},{"offset":0.684,"color":"#fff0"},{"offset":0.69,"color":"#fff0"},{"offset":0.692,"color":"#5b2"},{"offset":0.694,"color":"#fff0"},{"offset":0.7,"color":"#fff0"},{"offset":0.702,"color":"#5b2"},{"offset":0.704,"color":"#fff0"},{"offset":0.71,"color":"#fff0"},{"offset":0.712,"color":"#5b2"},{"offset":0.714,"color":"#fff0"},{"offset":0.72,"color":"#fff0"},{"offset":0.722,"color":"#5b2"},{"offset":0.724,"color":"#fff0"},{"offset":0.73,"color":"#fff0"},{"offset":0.732,"color":"#5b2"},{"offset":0.734,"color":"#fff0"},{"offset":0.74,"color":"#fff0"},{"offset":0.742,"color":"#5b2"},{"offset":0.744,"color":"#fff0"},{"offset":0.75,"color":"#fff0"},{"offset":0.752,"color":"#5b2"},{"offset":0.754,"color":"#fff0"},{"offset":0.76,"color":"#fff0"},{"offset":0.762,"color":"#5b2"},{"offset":0.764,"color":"#fff0"},{"offset":0.77,"color":"#fff0"},{"offset":0.772,"color":"#5b2"},{"offset":0.774,"color":"#fff0"},{"offset":0.78,"color":"#fff0"},{"offset":0.782,"color":"#5b2"},{"offset":0.784,"color":"#fff0"},{"offset":0.79,"color":"#fff0"},{"offset":0.792,"color":"#5b2"},{"offset":0.794,"color":"#fff0"},{"offset":0.8,"color":"#fff0"},{"offset":0.802,"color":"#5b2"},{"offset":0.804,"color":"#fff0"},{"offset":0.81,"color":"#fff0"},{"offset":0.812,"color":"#5b2"},{"offset":0.814,"color":"#fff0"},{"offset":0.82,"color":"#fff0"},{"offset":0.822,"color":"#5b2"},{"offset":0.824,"color":"#fff0"},{"offset":0.83,"color":"#fff0"},{"offset":0.832,"color":"#5b2"},{"offset":0.834,"color":"#fff0"},{"offset":0.84,"color":"#fff0"},{"offset":0.842,"color":"#5b2"},{"offset":0.844,"color":"#fff0"},{"offset":0.85,"color":"#fff0"},{"offset":0.852,"color":"#5b2"},{"offset":0.854,"color":"#fff0"},{"offset":0.86,"color":"#fff0"},{"offset":0.862,"color":"#5b2"},{"offset":0.864,"color":"#fff0"},{"offset":0.87,"color":"#fff0"},{"offset":0.872,"color":"#5b2"},{"offset":0.874,"color":"#fff0"},{"offset":0.88,"color":"#fff0"},{"offset":0.882,"color":"#5b2"},{"offset":0.884,"color":"#fff0"},{"offset":0.89,"color":"#fff0"},{"offset":0.892,"color":"#5b2"},{"offset":0.894,"color":"#fff0"},{"offset":0.9,"color":"#fff0"},{"offset":0.902,"color":"#5b2"},{"offset":0.904,"color":"#fff0"},{"offset":0.91,"color":"#fff0"},{"offset":0.912,"color":"#5b2"},{"offset":0.914,"color":"#fff0"},{"offset":0.92,"color":"#fff0"},{"offset":0.922,"color":"#5b2"},{"offset":0.924,"color":"#fff0"},{"offset":0.93,"color":"#fff0"},{"offset":0.932,"color":"#5b2"},{"offset":0.934,"color":"#fff0"},{"offset":0.94,"color":"#fff0"},{"offset":0.942,"color":"#5b2"},{"offset":0.944,"color":"#fff0"},{"offset":0.95,"color":"#fff0"},{"offset":0.952,"color":"#5b2"},{"offset":0.954,"color":"#fff0"},{"offset":0.96,"color":"#fff0"},{"offset":0.962,"color":"#5b2"},{"offset":0.964,"color":"#fff0"},{"offset":0.97,"color":"#fff0"},{"offset":0.972,"color":"#5b2"},{"offset":0.974,"color":"#fff0"},{"offset":0.98,"color":"#fff0"},{"offset":0.982,"color":"#5b2"},{"offset":0.984,"color":"#fff0"},{"offset":0.99,"color":"#fff0"},{"offset":0.992,"color":"#5b2"},{"offset":0.994,"color":"#fff0"}]}},
"encoding":{"x":{"field":"x","type":"quantitative","scale":{"domain":[509,531],"range":[5,546],"nice":false,"zero":false},"axis":{"orient":"bottom","values":[510,511,512,513,514,515,516,517,518,519,520,521,522,523,524,525,526,527,528,529,530],"labelExpr":"datum.value%5==0?datum.label:''","tickSize":-9,"tickDash":{"condition":{"test":"datum.value%5==0","value":[20,0]},"value":[4,20]},"title":"Periodicity (days)","labelPadding":19,"titlePadding":4,"labelFlush":false}},
"y":{"field":"g","type":"quantitative","scale":{"domain":[0,200],"nice":false},"axis":{"orient":"left","offset":-5,"values":[0,10,20,30,40,50,60,70,80,90,100,110,120,130,140,150,160,170,180,190,200],"labelExpr":"datum.value%50==0?datum.label:''","tickSize":-10,"tickDash":{"condition":{"test":"datum.value%50==0","value":[20,0]},"value":[5,20]},"title":"Number","titleX":-57,"titleBaseline":"middle","labelPadding":16,"labelFlush":true,"labelFlushOffset":3}}}},
{"mark":{"type":"area","interpolate":"step-after","clip":true,"stroke":"#000","strokeWidth":1.6,"fill":{"gradient":"linear","x1":0,"y1":1,"x2":1.0891,"y2":0.85251,"stops":[{"offset":0,"color":"#fff0"},{"offset":0.002,"color":"#25b"},{"offset":0.004,"color":"#fff0"},{"offset":0.01,"color":"#fff0"},{"offset":0.012,"color":"#25b"},{"offset":0.014,"color":"#fff0"},{"offset":0.02,"color":"#fff0"},{"offset":0.022,"color":"#25b"},{"offset":0.024,"color":"#fff0"},{"offset":0.03,"color":"#fff0"},{"offset":0.032,"color":"#25b"},{"offset":0.034,"color":"#fff0"},{"offset":0.04,"color":"#fff0"},{"offset":0.042,"color":"#25b"},{"offset":0.044,"color":"#fff0"},{"offset":0.05,"color":"#fff0"},{"offset":0.052,"color":"#25b"},{"offset":0.054,"color":"#fff0"},{"offset":0.06,"color":"#fff0"},{"offset":0.062,"color":"#25b"},{"offset":0.064,"color":"#fff0"},{"offset":0.07,"color":"#fff0"},{"offset":0.072,"color":"#25b"},{"offset":0.074,"color":"#fff0"},{"offset":0.08,"color":"#fff0"},{"offset":0.082,"color":"#25b"},{"offset":0.084,"color":"#fff0"},{"offset":0.09,"color":"#fff0"},{"offset":0.092,"color":"#25b"},{"offset":0.094,"color":"#fff0"},{"offset":0.1,"color":"#fff0"},{"offset":0.102,"color":"#25b"},{"offset":0.104,"color":"#fff0"},{"offset":0.11,"color":"#fff0"},{"offset":0.112,"color":"#25b"},{"offset":0.114,"color":"#fff0"},{"offset":0.12,"color":"#fff0"},{"offset":0.122,"color":"#25b"},{"offset":0.124,"color":"#fff0"},{"offset":0.13,"color":"#fff0"},{"offset":0.132,"color":"#25b"},{"offset":0.134,"color":"#fff0"},{"offset":0.14,"color":"#fff0"},{"offset":0.142,"color":"#25b"},{"offset":0.144,"color":"#fff0"},{"offset":0.15,"color":"#fff0"},{"offset":0.152,"color":"#25b"},{"offset":0.154,"color":"#fff0"},{"offset":0.16,"color":"#fff0"},{"offset":0.162,"color":"#25b"},{"offset":0.164,"color":"#fff0"},{"offset":0.17,"color":"#fff0"},{"offset":0.172,"color":"#25b"},{"offset":0.174,"color":"#fff0"},{"offset":0.18,"color":"#fff0"},{"offset":0.182,"color":"#25b"},{"offset":0.184,"color":"#fff0"},{"offset":0.19,"color":"#fff0"},{"offset":0.192,"color":"#25b"},{"offset":0.194,"color":"#fff0"},{"offset":0.2,"color":"#fff0"},{"offset":0.202,"color":"#25b"},{"offset":0.204,"color":"#fff0"},{"offset":0.21,"color":"#fff0"},{"offset":0.212,"color":"#25b"},{"offset":0.214,"color":"#fff0"},{"offset":0.22,"color":"#fff0"},{"offset":0.222,"color":"#25b"},{"offset":0.224,"color":"#fff0"},{"offset":0.23,"color":"#fff0"},{"offset":0.232,"color":"#25b"},{"offset":0.234,"color":"#fff0"},{"offset":0.24,"color":"#fff0"},{"offset":0.242,"color":"#25b"},{"offset":0.244,"color":"#fff0"},{"offset":0.25,"color":"#fff0"},{"offset":0.252,"color":"#25b"},{"offset":0.254,"color":"#fff0"},{"offset":0.26,"color":"#fff0"},{"offset":0.262,"color":"#25b"},{"offset":0.264,"color":"#fff0"},{"offset":0.27,"color":"#fff0"},{"offset":0.272,"color":"#25b"},{"offset":0.274,"color":"#fff0"},{"offset":0.28,"color":"#fff0"},{"offset":0.282,"color":"#25b"},{"offset":0.284,"color":"#fff0"},{"offset":0.29,"color":"#fff0"},{"offset":0.292,"color":"#25b"},{"offset":0.294,"color":"#fff0"},{"offset":0.3,"color":"#fff0"},{"offset":0.302,"color":"#25b"},{"offset":0.304,"color":"#fff0"},{"offset":0.31,"color":"#fff0"},{"offset":0.312,"color":"#25b"},{"offset":0.314,"color":"#fff0"},{"offset":0.32,"color":"#fff0"},{"offset":0.322,"color":"#25b"},{"offset":0.324,"color":"#fff0"},{"offset":0.33,"color":"#fff0"},{"offset":0.332,"color":"#25b"},{"offset":0.334,"color":"#fff0"},{"offset":0.34,"color":"#fff0"},{"offset":0.342,"color":"#25b"},{"offset":0.344,"color":"#fff0"},{"offset":0.35,"color":"#fff0"},{"offset":0.352,"color":"#25b"},{"offset":0.354,"color":"#fff0"},{"offset":0.36,"color":"#fff0"},{"offset":0.362,"color":"#25b"},{"offset":0.364,"color":"#fff0"},{"offset":0.37,"color":"#fff0"},{"offset":0.372,"color":"#25b"},{"offset":0.374,"color":"#fff0"},{"offset":0.38,"color":"#fff0"},{"offset":0.382,"color":"#25b"},{"offset":0.384,"color":"#fff0"},{"offset":0.39,"color":"#fff0"},{"offset":0.392,"color":"#25b"},{"offset":0.394,"color":"#fff0"},{"offset":0.4,"color":"#fff0"},{"offset":0.402,"color":"#25b"},{"offset":0.404,"color":"#fff0"},{"offset":0.41,"color":"#fff0"},{"offset":0.412,"color":"#25b"},{"offset":0.414,"color":"#fff0"},{"offset":0.42,"color":"#fff0"},{"offset":0.422,"color":"#25b"},{"offset":0.424,"color":"#fff0"},{"offset":0.43,"color":"#fff0"},{"offset":0.432,"color":"#25b"},{"offset":0.434,"color":"#fff0"},{"offset":0.44,"color":"#fff0"},{"offset":0.442,"color":"#25b"},{"offset":0.444,"color":"#fff0"},{"offset":0.45,"color":"#fff0"},{"offset":0.452,"color":"#25b"},{"offset":0.454,"color":"#fff0"},{"offset":0.46,"color":"#fff0"},{"offset":0.462,"color":"#25b"},{"offset":0.464,"color":"#fff0"},{"offset":0.47,"color":"#fff0"},{"offset":0.472,"color":"#25b"},{"offset":0.474,"color":"#fff0"},{"offset":0.48,"color":"#fff0"},{"offset":0.482,"color":"#25b"},{"offset":0.484,"color":"#fff0"},{"offset":0.49,"color":"#fff0"},{"offset":0.492,"color":"#25b"},{"offset":0.494,"color":"#fff0"},{"offset":0.5,"color":"#fff0"},{"offset":0.502,"color":"#25b"},{"offset":0.504,"color":"#fff0"},{"offset":0.51,"color":"#fff0"},{"offset":0.512,"color":"#25b"},{"offset":0.514,"color":"#fff0"},{"offset":0.52,"color":"#fff0"},{"offset":0.522,"color":"#25b"},{"offset":0.524,"color":"#fff0"},{"offset":0.53,"color":"#fff0"},{"offset":0.532,"color":"#25b"},{"offset":0.534,"color":"#fff0"},{"offset":0.54,"color":"#fff0"},{"offset":0.542,"color":"#25b"},{"offset":0.544,"color":"#fff0"},{"offset":0.55,"color":"#fff0"},{"offset":0.552,"color":"#25b"},{"offset":0.554,"color":"#fff0"},{"offset":0.56,"color":"#fff0"},{"offset":0.562,"color":"#25b"},{"offset":0.564,"color":"#fff0"},{"offset":0.57,"color":"#fff0"},{"offset":0.572,"color":"#25b"},{"offset":0.574,"color":"#fff0"},{"offset":0.58,"color":"#fff0"},{"offset":0.582,"color":"#25b"},{"offset":0.584,"color":"#fff0"},{"offset":0.59,"color":"#fff0"},{"offset":0.592,"color":"#25b"},{"offset":0.594,"color":"#fff0"},{"offset":0.6,"color":"#fff0"},{"offset":0.602,"color":"#25b"},{"offset":0.604,"color":"#fff0"},{"offset":0.61,"color":"#fff0"},{"offset":0.612,"color":"#25b"},{"offset":0.614,"color":"#fff0"},{"offset":0.62,"color":"#fff0"},{"offset":0.622,"color":"#25b"},{"offset":0.624,"color":"#fff0"},{"offset":0.63,"color":"#fff0"},{"offset":0.632,"color":"#25b"},{"offset":0.634,"color":"#fff0"},{"offset":0.64,"color":"#fff0"},{"offset":0.642,"color":"#25b"},{"offset":0.644,"color":"#fff0"},{"offset":0.65,"color":"#fff0"},{"offset":0.652,"color":"#25b"},{"offset":0.654,"color":"#fff0"},{"offset":0.66,"color":"#fff0"},{"offset":0.662,"color":"#25b"},{"offset":0.664,"color":"#fff0"},{"offset":0.67,"color":"#fff0"},{"offset":0.672,"color":"#25b"},{"offset":0.674,"color":"#fff0"},{"offset":0.68,"color":"#fff0"},{"offset":0.682,"color":"#25b"},{"offset":0.684,"color":"#fff0"},{"offset":0.69,"color":"#fff0"},{"offset":0.692,"color":"#25b"},{"offset":0.694,"color":"#fff0"},{"offset":0.7,"color":"#fff0"},{"offset":0.702,"color":"#25b"},{"offset":0.704,"color":"#fff0"},{"offset":0.71,"color":"#fff0"},{"offset":0.712,"color":"#25b"},{"offset":0.714,"color":"#fff0"},{"offset":0.72,"color":"#fff0"},{"offset":0.722,"color":"#25b"},{"offset":0.724,"color":"#fff0"},{"offset":0.73,"color":"#fff0"},{"offset":0.732,"color":"#25b"},{"offset":0.734,"color":"#fff0"},{"offset":0.74,"color":"#fff0"},{"offset":0.742,"color":"#25b"},{"offset":0.744,"color":"#fff0"},{"offset":0.75,"color":"#fff0"},{"offset":0.752,"color":"#25b"},{"offset":0.754,"color":"#fff0"},{"offset":0.76,"color":"#fff0"},{"offset":0.762,"color":"#25b"},{"offset":0.764,"color":"#fff0"},{"offset":0.77,"color":"#fff0"},{"offset":0.772,"color":"#25b"},{"offset":0.774,"color":"#fff0"},{"offset":0.78,"color":"#fff0"},{"offset":0.782,"color":"#25b"},{"offset":0.784,"color":"#fff0"},{"offset":0.79,"color":"#fff0"},{"offset":0.792,"color":"#25b"},{"offset":0.794,"color":"#fff0"},{"offset":0.8,"color":"#fff0"},{"offset":0.802,"color":"#25b"},{"offset":0.804,"color":"#fff0"},{"offset":0.81,"color":"#fff0"},{"offset":0.812,"color":"#25b"},{"offset":0.814,"color":"#fff0"},{"offset":0.82,"color":"#fff0"},{"offset":0.822,"color":"#25b"},{"offset":0.824,"color":"#fff0"},{"offset":0.83,"color":"#fff0"},{"offset":0.832,"color":"#25b"},{"offset":0.834,"color":"#fff0"},{"offset":0.84,"color":"#fff0"},{"offset":0.842,"color":"#25b"},{"offset":0.844,"color":"#fff0"},{"offset":0.85,"color":"#fff0"},{"offset":0.852,"color":"#25b"},{"offset":0.854,"color":"#fff0"},{"offset":0.86,"color":"#fff0"},{"offset":0.862,"color":"#25b"},{"offset":0.864,"color":"#fff0"},{"offset":0.87,"color":"#fff0"},{"offset":0.872,"color":"#25b"},{"offset":0.874,"color":"#fff0"},{"offset":0.88,"color":"#fff0"},{"offset":0.882,"color":"#25b"},{"offset":0.884,"color":"#fff0"},{"offset":0.89,"color":"#fff0"},{"offset":0.892,"color":"#25b"},{"offset":0.894,"color":"#fff0"},{"offset":0.9,"color":"#fff0"},{"offset":0.902,"color":"#25b"},{"offset":0.904,"color":"#fff0"},{"offset":0.91,"color":"#fff0"},{"offset":0.912,"color":"#25b"},{"offset":0.914,"color":"#fff0"},{"offset":0.92,"color":"#fff0"},{"offset":0.922,"color":"#25b"},{"offset":0.924,"color":"#fff0"},{"offset":0.93,"color":"#fff0"},{"offset":0.932,"color":"#25b"},{"offset":0.934,"color":"#fff0"},{"offset":0.94,"color":"#fff0"},{"offset":0.942,"color":"#25b"},{"offset":0.944,"color":"#fff0"},{"offset":0.95,"color":"#fff0"},{"offset":0.952,"color":"#25b"},{"offset":0.954,"color":"#fff0"},{"offset":0.96,"color":"#fff0"},{"offset":0.962,"color":"#25b"},{"offset":0.964,"color":"#fff0"},{"offset":0.97,"color":"#fff0"},{"offset":0.972,"color":"#25b"},{"offset":0.974,"color":"#fff0"},{"offset":0.98,"color":"#fff0"},{"offset":0.982,"color":"#25b"},{"offset":0.984,"color":"#fff0"},{"offset":0.99,"color":"#fff0"},{"offset":0.992,"color":"#25b"},{"offset":0.994,"color":"#fff0"}]}},
"encoding":{"x":{"field":"x","type":"quantitative","axis":null},"y":{"field":"b","type":"quantitative","axis":null}}},
{"mark":{"type":"line","interpolate":"step-after","color":"#000","strokeWidth":1.8,"clip":true},
"encoding":{"x":{"field":"x","type":"quantitative","axis":{"orient":"top","values":[510,511,512,513,514,515,516,517,518,519,520,521,522,523,524,525,526,527,528,529,530],"labels":false,"title":null,"tickSize":-9,"tickDash":{"condition":{"test":"datum.value%5==0","value":[20,0]},"value":[4,20]}}},
"y":{"field":"g","type":"quantitative","axis":{"orient":"right","values":[0,10,20,30,40,50,60,70,80,90,100,110,120,130,140,150,160,170,180,190,200],"labels":false,"title":null,"tickSize":-10,"tickDash":{"condition":{"test":"datum.value%50==0","value":[20,0]},"value":[5,20]}}}}},
{"mark":{"type":"line","interpolate":"step-after","color":"#000","strokeWidth":1.8,"clip":true},
"encoding":{"x":{"field":"x","type":"quantitative","axis":null},"y":{"field":"b","type":"quantitative","axis":null}}}
]}
]
}
